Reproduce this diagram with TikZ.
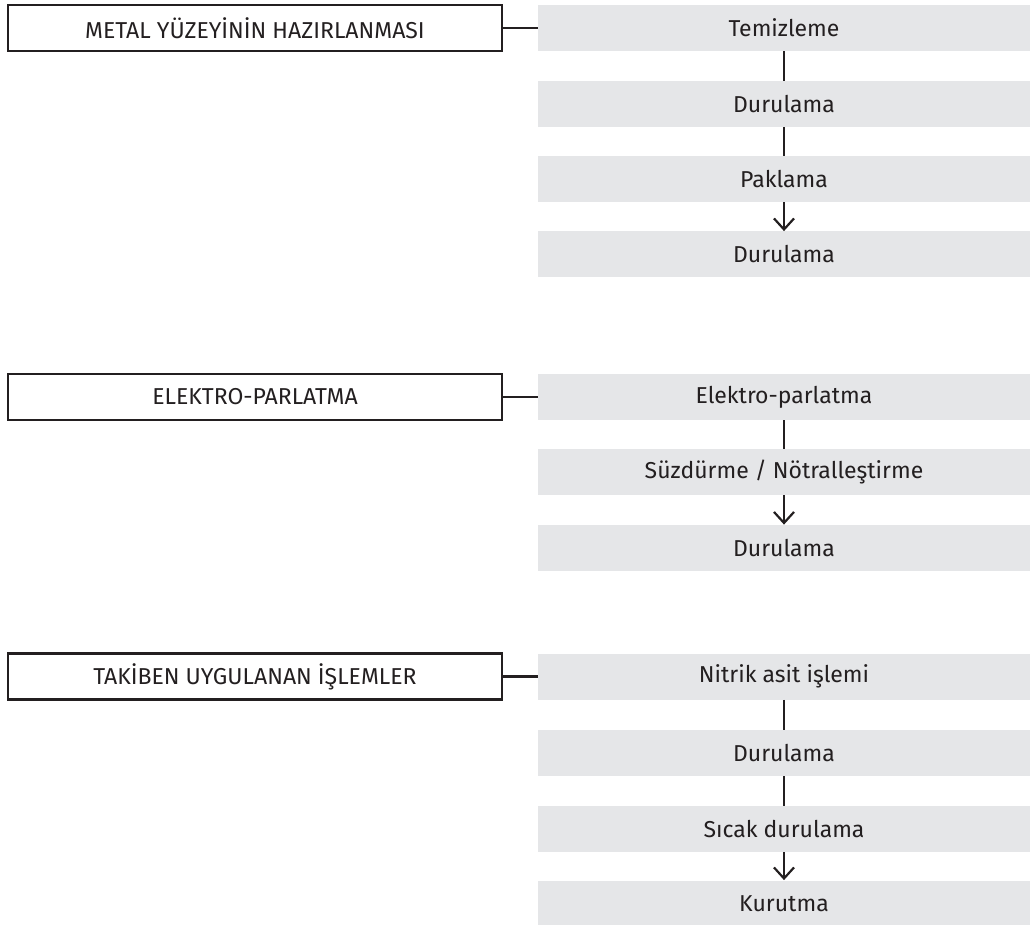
\documentclass[tikz,border=0pt]{standalone}
\usepackage{fontspec}
\setmainfont{Fira Sans}
\definecolor{stepgray}{RGB}{229, 230, 232}
\definecolor{textdark}{RGB}{35, 31, 32}
\usetikzlibrary{arrows.meta}

\begin{document}
\begin{tikzpicture}[
    x=0.5pt, y={(0pt,-0.5pt)},
    stage/.style={draw=textdark, line width=1.2pt, minimum width=247pt, minimum height=23pt, inner sep=0pt, font=\fontsize{11.5}{14}\selectfont, text=textdark},
    stepbox/.style={fill=stepgray, minimum width=246pt, minimum height=23pt, inner sep=0pt, font=\fontsize{11.5}{14}\selectfont, text=textdark},
    link/.style={draw=textdark, line width=1.1pt},
    flow/.style={link, -{Straight Barb[length=5.5pt, width=10pt, line width=1.1pt]}}
  ]
    \useasboundingbox (0,0) rectangle (1035,925);

    % Stages
    \node[stage] (prep) at (255, 28) {METAL YÜZEYİNİN HAZIRLANMASI};
    \node[stage] (elpol) at (255, 397) {ELEKTRO-PARLATMA};
    \node[stage] (post) at (255, 676.5) {TAKİBEN UYGULANAN İŞLEMLER};

    % Steps: surface preparation
    \node[stepbox] (clean) at (784, 28) {Temizleme};
    \node[stepbox] (rinseA) at (784, 104) {Durulama};
    \node[stepbox] (pickle) at (784, 179) {Paklama};
    \node[stepbox] (rinseB) at (784, 254.5) {Durulama};

    % Steps: electropolishing
    \node[stepbox] (polish) at (784, 397) {Elektro-parlatma};
    \node[stepbox] (drain) at (784, 472) {Süzdürme / Nötralleştirme};
    \node[stepbox] (rinseC) at (784, 548) {Durulama};

    % Steps: after-treatment
    \node[stepbox] (nitric) at (784, 676.5) {Nitrik asit işlemi};
    \node[stepbox] (rinseD) at (784, 753) {Durulama};
    \node[stepbox] (hotrinse) at (784, 829) {Sıcak durulama};
    \node[stepbox] (dry) at (784, 903.5) {Kurutma};

    % Stage links
    \draw[link] (prep.east) -- (clean.west);
    \draw[link] (elpol.east) -- (polish.west);
    \draw[link] (post.east) -- (nitric.west);

    % Step links
    \draw[link] (clean) -- (rinseA);
    \draw[link] (rinseA) -- (pickle);
    \draw[flow] (pickle) -- (rinseB);
    \draw[link] (polish) -- (drain);
    \draw[flow] (drain) -- (rinseC);
    \draw[link] (nitric) -- (rinseD);
    \draw[link] (rinseD) -- (hotrinse);
    \draw[flow] (hotrinse) -- (dry);
  \end{tikzpicture}
\end{document}
